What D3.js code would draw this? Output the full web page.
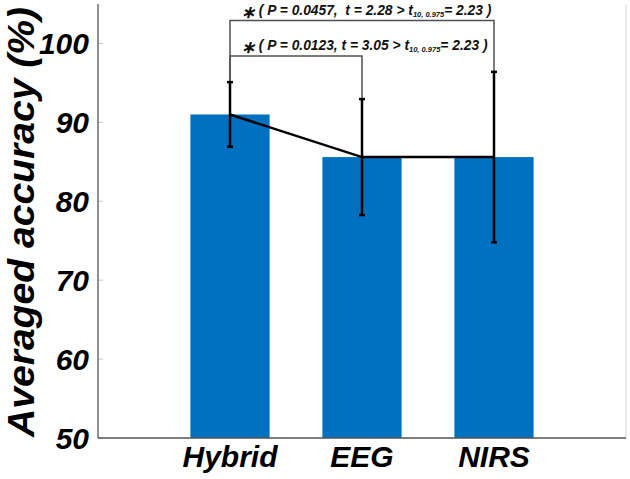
<!DOCTYPE html>
<html>
<head>
<meta charset="utf-8">
<script src="https://cdn.jsdelivr.net/npm/d3@7"></script>
<style>
  html, body { margin: 0; padding: 0; background: #fff; }
  svg { display: block; }
  text { font-family: "Liberation Sans", Arial, sans-serif; font-weight: bold; font-style: italic; white-space: pre; }
</style>
</head>
<body>
<div id="chart"></div>
<script>
// ---- data ----
const categories = ["Hybrid", "EEG", "NIRS"];
const meanAccuracy = [91.0, 85.6, 85.6];
const stdError = [4.1, 7.35, 10.8];
const yTicks = [50, 60, 70, 80, 90, 100];
const comparisons = [
  { from: 0, to: 2, level: 102.9, p: "0.0457", gap: "  ", t: "2.28", df: "10", q: "0.975", crit: "2.23" },
  { from: 0, to: 1, level: 98.4, p: "0.0123", gap: " ", t: "3.05", df: "10", q: "0.975", crit: "2.23" }
];

// ---- layout ----
const W = 630, H = 479;
const svg = d3.select("#chart").append("svg").attr("width", W).attr("height", H);

const x = d3.scaleLinear().domain([0, 4]).range([98, 626]);
const y = d3.scaleLinear().domain([50, 105]).range([438, 4]);
const barW = x(0.6) - x(0);

// faint right border
svg.append("line").attr("x1", x(4)).attr("x2", x(4)).attr("y1", y(105)).attr("y2", y(50))
  .attr("stroke", "#d8d8d8").attr("stroke-width", 1);

// y tick marks (inward, faint)
svg.append("g").selectAll("line").data(yTicks).join("line")
  .attr("x1", x(0)).attr("x2", x(0) + 5)
  .attr("y1", d => y(d)).attr("y2", d => y(d))
  .attr("stroke", "#c8c8c8").attr("stroke-width", 1);

// bars
svg.append("g").selectAll("rect").data(categories).join("rect")
  .attr("x", (d, i) => x(i + 1) - barW / 2)
  .attr("width", barW)
  .attr("y", (d, i) => y(meanAccuracy[i]))
  .attr("height", (d, i) => y(50) - y(meanAccuracy[i]))
  .attr("fill", "#0070c0");

// axes lines
svg.append("line").attr("x1", x(0)).attr("x2", x(0)).attr("y1", y(105)).attr("y2", y(50))
  .attr("stroke", "#555").attr("stroke-width", 1.3);
svg.append("line").attr("x1", x(0)).attr("x2", x(4)).attr("y1", y(50)).attr("y2", y(50))
  .attr("stroke", "#555").attr("stroke-width", 1.6);

// significance brackets
comparisons.forEach(c => {
  const x1 = x(c.from + 1), x2 = x(c.to + 1);
  const yl = y(c.level);
  const y1 = y(meanAccuracy[c.from] + stdError[c.from]);
  const y2 = y(meanAccuracy[c.to] + stdError[c.to]);
  svg.append("path")
    .attr("d", `M${x1},${y1}V${yl}H${x2}V${y2}`)
    .attr("fill", "none").attr("stroke", "#505050").attr("stroke-width", 1.5);
  const t = svg.append("text").attr("x", x1 + 11).attr("y", yl - 6)
    .attr("font-size", 13.8).attr("fill", "#111");
  t.append("tspan").attr("font-size", 17).attr("dy", 3).text("∗");
  t.append("tspan").attr("dy", -3).text(` ( P = ${c.p},${c.gap}t = ${c.t} > t`);
  t.append("tspan").attr("font-size", 7.5).attr("dy", 2).text(`${c.df}, ${c.q}`);
  t.append("tspan").attr("dy", -2).text(`= ${c.crit} )`);
});

// mean connecting line
const line = d3.line().x((d, i) => x(i + 1)).y(d => y(d));
svg.append("path").datum(meanAccuracy).attr("d", line)
  .attr("fill", "none").attr("stroke", "#000").attr("stroke-width", 2.5);

// error bars
const eb = svg.append("g").attr("stroke", "#000").attr("stroke-width", 2.5);
categories.forEach((c, i) => {
  const cx = x(i + 1);
  const top = y(meanAccuracy[i] + stdError[i]);
  const bot = y(meanAccuracy[i] - stdError[i]);
  eb.append("line").attr("x1", cx).attr("x2", cx).attr("y1", top).attr("y2", bot);
  eb.append("line").attr("x1", cx - 3).attr("x2", cx + 3).attr("y1", top).attr("y2", top);
  eb.append("line").attr("x1", cx - 3).attr("x2", cx + 3).attr("y1", bot).attr("y2", bot);
});

// y tick labels
svg.append("g").selectAll("text").data(yTicks).join("text")
  .attr("x", 89).attr("y", d => y(d)).attr("dy", "0.36em")
  .attr("text-anchor", "end").attr("font-size", 30).attr("fill", "#000")
  .text(d => d);

// x tick labels
svg.append("g").selectAll("text").data(categories).join("text")
  .attr("x", (d, i) => x(i + 1)).attr("y", 467)
  .attr("text-anchor", "middle").attr("font-size", 30).attr("fill", "#000")
  .text(d => d);

// y axis title
svg.append("text")
  .attr("transform", `translate(34,${(y(105) + y(50)) / 2 + 1}) rotate(-90)`)
  .attr("text-anchor", "middle").attr("font-size", 37).attr("fill", "#000")
  .attr("textLength", 430).attr("lengthAdjust", "spacingAndGlyphs")
  .text("Averaged accuracy (%)");
</script>
</body>
</html>
